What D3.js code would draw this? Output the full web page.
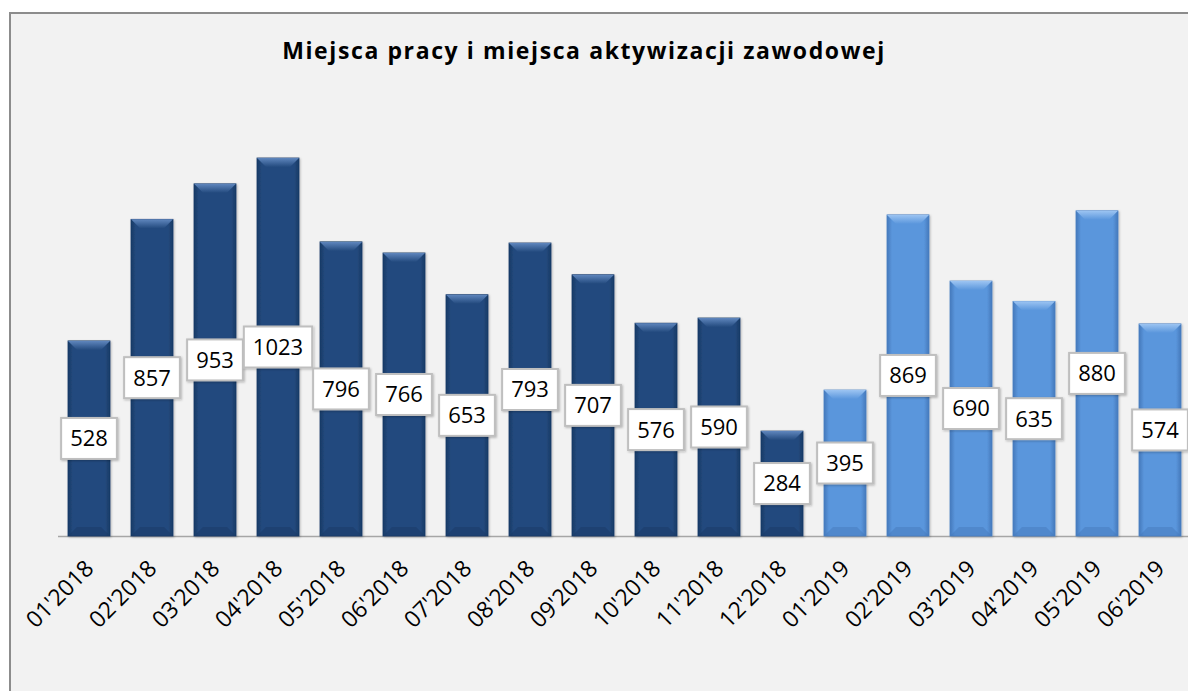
<!doctype html>
<html lang="pl">
<head>
<meta charset="utf-8">
<title>Miejsca pracy i miejsca aktywizacji zawodowej</title>
<script src="https://cdn.jsdelivr.net/npm/d3@7"></script>
<style>
  body { margin: 0; background: #ffffff; }
  svg { display: block; }
</style>
</head>
<body>
<div id="chart"></div>
<script>
// months on the x axis
var months = ["01'2018", "02'2018", "03'2018", "04'2018", "05'2018", "06'2018",
  "07'2018", "08'2018", "09'2018", "10'2018", "11'2018", "12'2018",
  "01'2019", "02'2019", "03'2019", "04'2019", "05'2019", "06'2019"];
// number of job offers / activation places
var values = [528, 857, 953, 1023, 796, 766, 653, 793, 707, 576, 590, 284,
  395, 869, 690, 635, 880, 574];
// year of each bar (2018 dark, 2019 light)
var years = months.map(function (m) { return m.slice(3); });

var W = 1188, H = 691;
var base = 536;
var font = "'Open Sans', 'Liberation Sans', sans-serif";

var svg = d3.select("#chart").append("svg")
  .attr("width", W).attr("height", H);

// chart area background + frame
svg.append("rect")
  .attr("x", 10).attr("y", 13).attr("width", W + 20).attr("height", H + 20)
  .attr("fill", "#f2f2f2").attr("stroke", "#8c8c8c").attr("stroke-width", 2);

svg.append("text")
  .attr("x", 584).attr("y", 59)
  .attr("text-anchor", "middle")
  .style("font-family", font)
  .style("font-weight", "bold")
  .style("font-size", "23px")
  .style("letter-spacing", "1.6px")
  .attr("fill", "#000")
  .text("Miejsca pracy i miejsca aktywizacji zawodowej");

var x = d3.scaleBand()
  .domain(months)
  .range([57.5, 57.5 + 63 * 18])
  .paddingInner(1 / 3)
  .paddingOuter(1 / 6);

var y = d3.scaleLinear()
  .domain([0, 1200])
  .range([base, base - 1200 * 0.3695]);

var colors = {
  "2018": { main: "#234a7e", light: "#5f86bd", dark: "#193a66", edge: "#1a3b68" },
  "2019": { main: "#5a96dc", light: "#9cc4f2", dark: "#4579bb", edge: "#4a80c4" }
};

// gradients
var defs = svg.append("defs");
Object.keys(colors).forEach(function (k) {
  var c = colors[k];
  var g = defs.append("linearGradient").attr("id", "body" + k)
    .attr("x1", 0).attr("x2", 1).attr("y1", 0).attr("y2", 0);
  g.append("stop").attr("offset", "0%").attr("stop-color", c.dark);
  g.append("stop").attr("offset", "12%").attr("stop-color", c.main);
  g.append("stop").attr("offset", "88%").attr("stop-color", c.main);
  g.append("stop").attr("offset", "100%").attr("stop-color", c.dark);
  var t = defs.append("linearGradient").attr("id", "top" + k)
    .attr("x1", 0).attr("x2", 0).attr("y1", 0).attr("y2", 1);
  t.append("stop").attr("offset", "0%").attr("stop-color", c.light);
  t.append("stop").attr("offset", "100%").attr("stop-color", c.main);
});
var sh = defs.append("filter").attr("id", "shadow")
  .attr("x", "-20%").attr("y", "-20%").attr("width", "140%").attr("height", "140%");
sh.append("feDropShadow").attr("dx", 1).attr("dy", 1).attr("stdDeviation", 1.2)
  .attr("flood-color", "#000").attr("flood-opacity", 0.25);

// axis line
svg.append("line")
  .attr("x1", 58).attr("x2", W).attr("y1", base + 0.5).attr("y2", base + 0.5)
  .attr("stroke", "#a6a6a6").attr("stroke-width", 1.5);

var bw = x.bandwidth();
var bev = 9;

var bars = svg.append("g").selectAll("g")
  .data(values)
  .enter().append("g");

bars.append("rect")
  .attr("x", function (d, i) { return x(months[i]); })
  .attr("y", function (d) { return y(d); })
  .attr("width", bw)
  .attr("height", function (d) { return base - y(d); })
  .attr("fill", function (d, i) { return "url(#body" + years[i] + ")"; })
  .attr("stroke", function (d, i) { return colors[years[i]].edge; })
  .attr("stroke-width", 0.8)
  .attr("filter", "url(#shadow)");

// top bevel
bars.append("polygon")
  .attr("points", function (d, i) {
    var x0 = x(months[i]), x1 = x0 + bw, t = y(d);
    return [[x0, t], [x1, t], [x1 - bev, t + bev], [x0 + bev, t + bev]].join(" ");
  })
  .attr("fill", function (d, i) { return "url(#top" + years[i] + ")"; });

// bottom bevel
bars.append("polygon")
  .attr("points", function (d, i) {
    var x0 = x(months[i]), x1 = x0 + bw, b = base;
    return [[x0, b], [x1, b], [x1 - bev, b - bev], [x0 + bev, b - bev]].join(" ");
  })
  .attr("fill", function (d, i) { return colors[years[i]].dark; })
  .attr("opacity", 0.5);

// value labels
var lab = svg.append("g").selectAll("g")
  .data(values)
  .enter().append("g")
  .attr("transform", function (d, i) {
    return "translate(" + (x(months[i]) + bw / 2) + "," + ((y(d) + base) / 2) + ")";
  });

var txt = lab.append("text")
  .attr("text-anchor", "middle")
  .attr("dy", "0.36em")
  .style("font-family", font)
  .style("font-size", "22px")
  .attr("fill", "#000")
  .text(function (d) { return d; });

lab.insert("rect", "text")
  .each(function (d, i) {
    var w = txt.nodes()[i].getComputedTextLength() + 18;
    d3.select(this)
      .attr("x", -w / 2).attr("y", -20.5)
      .attr("width", w).attr("height", 41);
  })
  .attr("fill", "#ffffff")
  .attr("stroke", "#bfbfbf")
  .attr("stroke-width", 2)
  .attr("filter", "url(#shadow)");

// x tick labels
svg.append("g").selectAll("text")
  .data(months)
  .enter().append("text")
  .attr("transform", function (d) {
    return "translate(" + (x(d) + bw / 2 + 6) + "," + (base + 34) + ") rotate(-45)";
  })
  .attr("text-anchor", "end")
  .style("font-family", font)
  .style("font-size", "23px")
  .attr("fill", "#000")
  .text(function (d) { return d; });
</script>
</body>
</html>
